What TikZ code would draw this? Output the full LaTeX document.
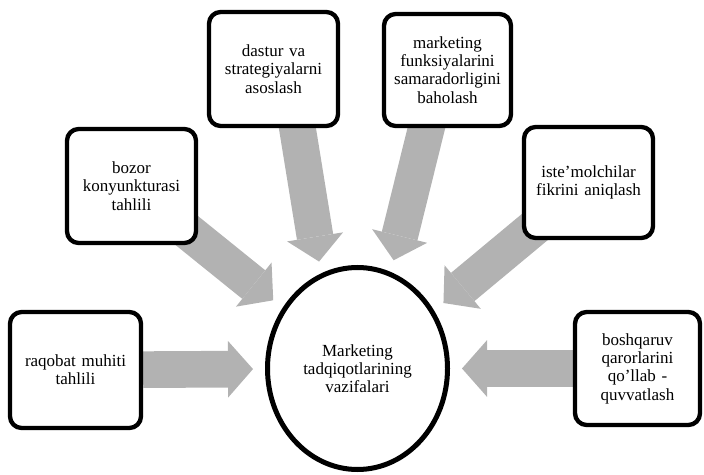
\documentclass[tikz,border=0pt]{standalone}
\usepackage{fontspec}
\setmainfont{Liberation Serif}
\usetikzlibrary{arrows.meta,backgrounds,shapes.geometric}

\tikzset{
  taskbox/.style={draw, line width=1.3mm, rounded corners=3.5mm, fill=white,
    align=center, inner sep=0pt, text width=36mm,
    minimum width=38.7mm, minimum height=34.2mm,
    font=\fontsize{14.5}{15.6}\selectfont},
  hubnode/.style={draw, ellipse, line width=1.5mm, fill=white, align=center,
    inner sep=0pt, font=\fontsize{14.5}{15.6}\selectfont},
  fatarrow/.style={draw=black!30, line width=11mm,
    -{Triangle[width=17mm,length=7.5mm,line width=0pt]}, shorten >=3.6mm},
}

\begin{document}
\begin{tikzpicture}[x=0.3mm,y=-0.3mm]
\useasboundingbox (0,0) rectangle (704,475);
% The hub in the middle
\node[hubnode, minimum width=54mm, minimum height=60.6mm] (centre) at (357.5,368.5)
  {Marketing\\tadqiqotlarining\\vazifalari};
% The six tasks round it
\node[taskbox, minimum width=39.3mm, minimum height=34.8mm] (raqobat) at (75.5,370)
  {raqobat muhiti\\tahlili};
\node[taskbox] (bozor) at (131.5,186) {bozor\\konyunkturasi\\tahlili};
\node[taskbox] (dastur) at (273.5,69) {dastur va\\strategiyalarni\\asoslash};
\node[taskbox, minimum width=38.1mm, minimum height=33.6mm] (samara) at (447.5,70)
  {marketing\\funksiyalarini\\samaradorligini\\baholash};
\node[taskbox, minimum height=33.3mm] (istemol) at (588.5,182.5)
  {iste'molchilar\\fikrini aniqlash};
\node[taskbox, minimum width=37.5mm, minimum height=33.9mm] (boshqaruv) at (637.5,368.5)
  {boshqaruv\\qarorlarini\\qo'llab -\\quvvatlash};

% Wide arrows go behind the boxes
\begin{scope}[on background layer]
\draw[fatarrow] (raqobat) -- (centre);
\draw[fatarrow, shorten <=-6mm] (bozor) -- (centre.141);
\draw[fatarrow, shorten <=-3mm] (dastur.-68) -- (centre.111);
\draw[fatarrow, shorten <=-3mm] (samara.-110) -- (centre.71);
\draw[fatarrow, shorten <=-6mm] (istemol) -- (centre.37);
\draw[fatarrow] (boshqaruv) -- (centre);
\end{scope}
\end{tikzpicture}
\end{document}
